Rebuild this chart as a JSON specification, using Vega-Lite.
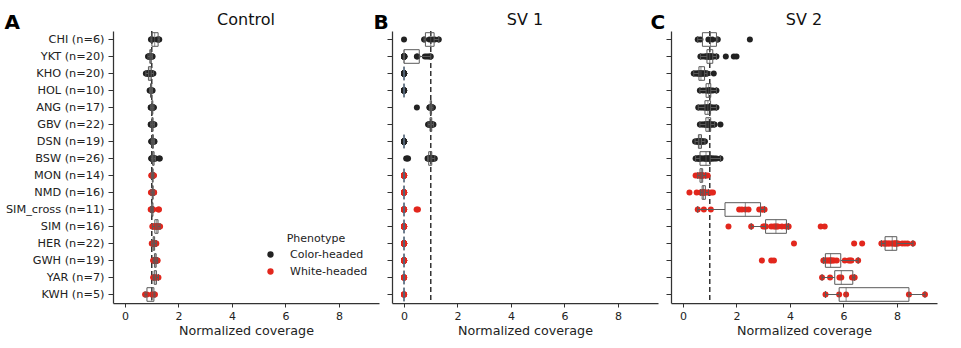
{
"$schema": "https://vega.github.io/schema/vega-lite/v6.json",
"background": "white",
"padding": {"left": 4, "top": 12, "right": 5, "bottom": 5},
"spacing": 13,
"bounds": "flush",
"config": {
  "view": {"stroke": null},
  "font": "DejaVu Sans",
  "axis": {"domainColor": "#333333", "tickColor": "#333333", "labelColor": "#222222", "titleColor": "#222222", "labelFont": "DejaVu Sans", "titleFont": "DejaVu Sans", "grid": false, "labelFontSize": 11, "tickSize": 4, "domainWidth": 1.25, "tickWidth": 1},
  "axisY": {"tickSize": 5, "labelFontSize": 11.3},
  "title": {"font": "DejaVu Sans", "fontSize": 16, "fontWeight": "normal", "anchor": "middle", "color": "#111111", "offset": 5, "dy": 21},
  "legend": {"orient": "none", "legendX": 152, "legendY": 202, "titleAnchor": "middle", "titleFontWeight": "normal", "titleFontSize": 11, "labelFontSize": 11, "titleColor": "#222222", "labelColor": "#222222", "symbolType": "circle", "symbolSize": 40, "symbolStrokeWidth": 0, "rowPadding": 5, "titlePadding": 5, "labelOffset": 14, "padding": 0}
},
"datasets": {
"breeds": [
{"breed":"CHI","label":"CHI (n=6)","phenotype":"Color-headed"},
{"breed":"YKT","label":"YKT (n=20)","phenotype":"Color-headed"},
{"breed":"KHO","label":"KHO (n=20)","phenotype":"Color-headed"},
{"breed":"HOL","label":"HOL (n=10)","phenotype":"Color-headed"},
{"breed":"ANG","label":"ANG (n=17)","phenotype":"Color-headed"},
{"breed":"GBV","label":"GBV (n=22)","phenotype":"Color-headed"},
{"breed":"DSN","label":"DSN (n=19)","phenotype":"Color-headed"},
{"breed":"BSW","label":"BSW (n=26)","phenotype":"Color-headed"},
{"breed":"MON","label":"MON (n=14)","phenotype":"White-headed"},
{"breed":"NMD","label":"NMD (n=16)","phenotype":"White-headed"},
{"breed":"SIM_cross","label":"SIM_cross (n=11)","phenotype":"White-headed"},
{"breed":"SIM","label":"SIM (n=16)","phenotype":"White-headed"},
{"breed":"HER","label":"HER (n=22)","phenotype":"White-headed"},
{"breed":"GWH","label":"GWH (n=19)","phenotype":"White-headed"},
{"breed":"YAR","label":"YAR (n=7)","phenotype":"White-headed"},
{"breed":"KWH","label":"KWH (n=5)","phenotype":"White-headed"}
],
"control": [
{"breed":"CHI","cov":0.97},{"breed":"CHI","cov":1.0},{"breed":"CHI","cov":1.02},{"breed":"CHI","cov":1.2},{"breed":"CHI","cov":1.25},{"breed":"CHI","cov":1.28},
{"breed":"YKT","cov":0.86},{"breed":"YKT","cov":0.88},{"breed":"YKT","cov":0.9},{"breed":"YKT","cov":0.91},{"breed":"YKT","cov":0.92},{"breed":"YKT","cov":0.93},{"breed":"YKT","cov":0.93},{"breed":"YKT","cov":0.94},{"breed":"YKT","cov":0.95},{"breed":"YKT","cov":0.95},{"breed":"YKT","cov":0.96},{"breed":"YKT","cov":0.96},{"breed":"YKT","cov":0.97},{"breed":"YKT","cov":0.97},{"breed":"YKT","cov":0.98},{"breed":"YKT","cov":0.99},{"breed":"YKT","cov":1.0},{"breed":"YKT","cov":1.0},{"breed":"YKT","cov":1.01},{"breed":"YKT","cov":1.03},
{"breed":"KHO","cov":0.78},{"breed":"KHO","cov":0.8},{"breed":"KHO","cov":0.83},{"breed":"KHO","cov":0.85},{"breed":"KHO","cov":0.86},{"breed":"KHO","cov":0.88},{"breed":"KHO","cov":0.9},{"breed":"KHO","cov":0.91},{"breed":"KHO","cov":0.92},{"breed":"KHO","cov":0.93},{"breed":"KHO","cov":0.94},{"breed":"KHO","cov":0.95},{"breed":"KHO","cov":0.96},{"breed":"KHO","cov":0.97},{"breed":"KHO","cov":0.98},{"breed":"KHO","cov":0.99},{"breed":"KHO","cov":1.0},{"breed":"KHO","cov":1.01},{"breed":"KHO","cov":1.03},{"breed":"KHO","cov":1.06},
{"breed":"HOL","cov":0.92},{"breed":"HOL","cov":0.94},{"breed":"HOL","cov":0.95},{"breed":"HOL","cov":0.96},{"breed":"HOL","cov":0.97},{"breed":"HOL","cov":0.98},{"breed":"HOL","cov":0.99},{"breed":"HOL","cov":1.0},{"breed":"HOL","cov":1.01},{"breed":"HOL","cov":1.03},
{"breed":"ANG","cov":0.96},{"breed":"ANG","cov":0.97},{"breed":"ANG","cov":0.98},{"breed":"ANG","cov":0.99},{"breed":"ANG","cov":1.0},{"breed":"ANG","cov":1.0},{"breed":"ANG","cov":1.01},{"breed":"ANG","cov":1.01},{"breed":"ANG","cov":1.02},{"breed":"ANG","cov":1.02},{"breed":"ANG","cov":1.03},{"breed":"ANG","cov":1.03},{"breed":"ANG","cov":1.04},{"breed":"ANG","cov":1.05},{"breed":"ANG","cov":1.05},{"breed":"ANG","cov":1.06},{"breed":"ANG","cov":1.08},
{"breed":"GBV","cov":0.96},{"breed":"GBV","cov":0.97},{"breed":"GBV","cov":0.98},{"breed":"GBV","cov":0.99},{"breed":"GBV","cov":1.0},{"breed":"GBV","cov":1.0},{"breed":"GBV","cov":1.01},{"breed":"GBV","cov":1.01},{"breed":"GBV","cov":1.02},{"breed":"GBV","cov":1.02},{"breed":"GBV","cov":1.03},{"breed":"GBV","cov":1.03},{"breed":"GBV","cov":1.03},{"breed":"GBV","cov":1.04},{"breed":"GBV","cov":1.04},{"breed":"GBV","cov":1.05},{"breed":"GBV","cov":1.05},{"breed":"GBV","cov":1.06},{"breed":"GBV","cov":1.06},{"breed":"GBV","cov":1.07},{"breed":"GBV","cov":1.08},{"breed":"GBV","cov":1.1},
{"breed":"DSN","cov":0.98},{"breed":"DSN","cov":0.99},{"breed":"DSN","cov":1.0},{"breed":"DSN","cov":1.01},{"breed":"DSN","cov":1.01},{"breed":"DSN","cov":1.02},{"breed":"DSN","cov":1.02},{"breed":"DSN","cov":1.03},{"breed":"DSN","cov":1.03},{"breed":"DSN","cov":1.04},{"breed":"DSN","cov":1.04},{"breed":"DSN","cov":1.05},{"breed":"DSN","cov":1.05},{"breed":"DSN","cov":1.06},{"breed":"DSN","cov":1.06},{"breed":"DSN","cov":1.07},{"breed":"DSN","cov":1.08},{"breed":"DSN","cov":1.09},{"breed":"DSN","cov":1.1},
{"breed":"BSW","cov":0.98},{"breed":"BSW","cov":0.99},{"breed":"BSW","cov":1.0},{"breed":"BSW","cov":1.01},{"breed":"BSW","cov":1.02},{"breed":"BSW","cov":1.02},{"breed":"BSW","cov":1.03},{"breed":"BSW","cov":1.03},{"breed":"BSW","cov":1.04},{"breed":"BSW","cov":1.04},{"breed":"BSW","cov":1.05},{"breed":"BSW","cov":1.05},{"breed":"BSW","cov":1.05},{"breed":"BSW","cov":1.06},{"breed":"BSW","cov":1.06},{"breed":"BSW","cov":1.07},{"breed":"BSW","cov":1.07},{"breed":"BSW","cov":1.08},{"breed":"BSW","cov":1.08},{"breed":"BSW","cov":1.09},{"breed":"BSW","cov":1.1},{"breed":"BSW","cov":1.1},{"breed":"BSW","cov":1.12},{"breed":"BSW","cov":1.14},{"breed":"BSW","cov":1.28},{"breed":"BSW","cov":1.3},
{"breed":"MON","cov":0.98},{"breed":"MON","cov":1.0},{"breed":"MON","cov":1.01},{"breed":"MON","cov":1.02},{"breed":"MON","cov":1.02},{"breed":"MON","cov":1.03},{"breed":"MON","cov":1.03},{"breed":"MON","cov":1.04},{"breed":"MON","cov":1.04},{"breed":"MON","cov":1.05},{"breed":"MON","cov":1.05},{"breed":"MON","cov":1.06},{"breed":"MON","cov":1.07},{"breed":"MON","cov":1.08},
{"breed":"NMD","cov":0.97},{"breed":"NMD","cov":0.99},{"breed":"NMD","cov":1.0},{"breed":"NMD","cov":1.01},{"breed":"NMD","cov":1.02},{"breed":"NMD","cov":1.02},{"breed":"NMD","cov":1.03},{"breed":"NMD","cov":1.03},{"breed":"NMD","cov":1.04},{"breed":"NMD","cov":1.04},{"breed":"NMD","cov":1.05},{"breed":"NMD","cov":1.05},{"breed":"NMD","cov":1.06},{"breed":"NMD","cov":1.07},{"breed":"NMD","cov":1.08},{"breed":"NMD","cov":1.09},
{"breed":"SIM_cross","cov":0.96},{"breed":"SIM_cross","cov":0.98},{"breed":"SIM_cross","cov":0.99},{"breed":"SIM_cross","cov":1.0},{"breed":"SIM_cross","cov":1.01},{"breed":"SIM_cross","cov":1.02},{"breed":"SIM_cross","cov":1.03},{"breed":"SIM_cross","cov":1.04},{"breed":"SIM_cross","cov":1.05},{"breed":"SIM_cross","cov":1.25},{"breed":"SIM_cross","cov":1.27},
{"breed":"SIM","cov":1.02},{"breed":"SIM","cov":1.05},{"breed":"SIM","cov":1.08},{"breed":"SIM","cov":1.1},{"breed":"SIM","cov":1.12},{"breed":"SIM","cov":1.14},{"breed":"SIM","cov":1.16},{"breed":"SIM","cov":1.18},{"breed":"SIM","cov":1.19},{"breed":"SIM","cov":1.2},{"breed":"SIM","cov":1.21},{"breed":"SIM","cov":1.23},{"breed":"SIM","cov":1.25},{"breed":"SIM","cov":1.27},{"breed":"SIM","cov":1.29},{"breed":"SIM","cov":1.31},
{"breed":"HER","cov":1.0},{"breed":"HER","cov":1.02},{"breed":"HER","cov":1.03},{"breed":"HER","cov":1.04},{"breed":"HER","cov":1.05},{"breed":"HER","cov":1.05},{"breed":"HER","cov":1.06},{"breed":"HER","cov":1.06},{"breed":"HER","cov":1.07},{"breed":"HER","cov":1.07},{"breed":"HER","cov":1.08},{"breed":"HER","cov":1.08},{"breed":"HER","cov":1.09},{"breed":"HER","cov":1.09},{"breed":"HER","cov":1.1},{"breed":"HER","cov":1.1},{"breed":"HER","cov":1.11},{"breed":"HER","cov":1.12},{"breed":"HER","cov":1.13},{"breed":"HER","cov":1.14},{"breed":"HER","cov":1.15},{"breed":"HER","cov":1.17},
{"breed":"GWH","cov":1.05},{"breed":"GWH","cov":1.07},{"breed":"GWH","cov":1.08},{"breed":"GWH","cov":1.09},{"breed":"GWH","cov":1.1},{"breed":"GWH","cov":1.1},{"breed":"GWH","cov":1.11},{"breed":"GWH","cov":1.12},{"breed":"GWH","cov":1.12},{"breed":"GWH","cov":1.13},{"breed":"GWH","cov":1.14},{"breed":"GWH","cov":1.14},{"breed":"GWH","cov":1.15},{"breed":"GWH","cov":1.16},{"breed":"GWH","cov":1.17},{"breed":"GWH","cov":1.18},{"breed":"GWH","cov":1.19},{"breed":"GWH","cov":1.2},{"breed":"GWH","cov":1.22},
{"breed":"YAR","cov":1.05},{"breed":"YAR","cov":1.08},{"breed":"YAR","cov":1.1},{"breed":"YAR","cov":1.12},{"breed":"YAR","cov":1.15},{"breed":"YAR","cov":1.2},{"breed":"YAR","cov":1.25},
{"breed":"KWH","cov":0.75},{"breed":"KWH","cov":0.82},{"breed":"KWH","cov":1.0},{"breed":"KWH","cov":1.08},{"breed":"KWH","cov":1.12}
],
"sv1": [
{"breed":"CHI","cov":0},{"breed":"CHI","cov":0.75},{"breed":"CHI","cov":0.95},{"breed":"CHI","cov":1.05},{"breed":"CHI","cov":1.15},{"breed":"CHI","cov":1.3},
{"breed":"YKT","cov":0},{"breed":"YKT","cov":0},{"breed":"YKT","cov":0},{"breed":"YKT","cov":0},{"breed":"YKT","cov":0},{"breed":"YKT","cov":0},{"breed":"YKT","cov":0},{"breed":"YKT","cov":0},{"breed":"YKT","cov":0},{"breed":"YKT","cov":0},{"breed":"YKT","cov":0},{"breed":"YKT","cov":0.01},{"breed":"YKT","cov":0.02},{"breed":"YKT","cov":0.48},{"breed":"YKT","cov":0.5},{"breed":"YKT","cov":0.78},{"breed":"YKT","cov":0.85},{"breed":"YKT","cov":0.92},{"breed":"YKT","cov":0.97},{"breed":"YKT","cov":1.0},
{"breed":"KHO","cov":0},{"breed":"KHO","cov":0},{"breed":"KHO","cov":0},{"breed":"KHO","cov":0},{"breed":"KHO","cov":0},{"breed":"KHO","cov":0},{"breed":"KHO","cov":0},{"breed":"KHO","cov":0},{"breed":"KHO","cov":0},{"breed":"KHO","cov":0},{"breed":"KHO","cov":0},{"breed":"KHO","cov":0},{"breed":"KHO","cov":0},{"breed":"KHO","cov":0},{"breed":"KHO","cov":0},{"breed":"KHO","cov":0},{"breed":"KHO","cov":0},{"breed":"KHO","cov":0},{"breed":"KHO","cov":0},{"breed":"KHO","cov":0},
{"breed":"HOL","cov":0},{"breed":"HOL","cov":0},{"breed":"HOL","cov":0},{"breed":"HOL","cov":0},{"breed":"HOL","cov":0},{"breed":"HOL","cov":0},{"breed":"HOL","cov":0},{"breed":"HOL","cov":0},{"breed":"HOL","cov":0},{"breed":"HOL","cov":0},
{"breed":"ANG","cov":0.48},{"breed":"ANG","cov":0.95},{"breed":"ANG","cov":0.96},{"breed":"ANG","cov":0.97},{"breed":"ANG","cov":0.98},{"breed":"ANG","cov":0.99},{"breed":"ANG","cov":1.0},{"breed":"ANG","cov":1.0},{"breed":"ANG","cov":1.01},{"breed":"ANG","cov":1.01},{"breed":"ANG","cov":1.02},{"breed":"ANG","cov":1.02},{"breed":"ANG","cov":1.03},{"breed":"ANG","cov":1.04},{"breed":"ANG","cov":1.05},{"breed":"ANG","cov":1.06},{"breed":"ANG","cov":1.08},
{"breed":"GBV","cov":0.9},{"breed":"GBV","cov":0.92},{"breed":"GBV","cov":0.94},{"breed":"GBV","cov":0.95},{"breed":"GBV","cov":0.96},{"breed":"GBV","cov":0.97},{"breed":"GBV","cov":0.98},{"breed":"GBV","cov":0.98},{"breed":"GBV","cov":0.99},{"breed":"GBV","cov":1.0},{"breed":"GBV","cov":1.0},{"breed":"GBV","cov":1.01},{"breed":"GBV","cov":1.01},{"breed":"GBV","cov":1.02},{"breed":"GBV","cov":1.02},{"breed":"GBV","cov":1.03},{"breed":"GBV","cov":1.04},{"breed":"GBV","cov":1.05},{"breed":"GBV","cov":1.06},{"breed":"GBV","cov":1.07},{"breed":"GBV","cov":1.08},{"breed":"GBV","cov":1.1},
{"breed":"DSN","cov":0},{"breed":"DSN","cov":0},{"breed":"DSN","cov":0},{"breed":"DSN","cov":0},{"breed":"DSN","cov":0},{"breed":"DSN","cov":0},{"breed":"DSN","cov":0},{"breed":"DSN","cov":0},{"breed":"DSN","cov":0},{"breed":"DSN","cov":0},{"breed":"DSN","cov":0},{"breed":"DSN","cov":0},{"breed":"DSN","cov":0},{"breed":"DSN","cov":0},{"breed":"DSN","cov":0},{"breed":"DSN","cov":0},{"breed":"DSN","cov":0},{"breed":"DSN","cov":0},{"breed":"DSN","cov":0},
{"breed":"BSW","cov":0.08},{"breed":"BSW","cov":0.12},{"breed":"BSW","cov":0.15},{"breed":"BSW","cov":0.88},{"breed":"BSW","cov":0.9},{"breed":"BSW","cov":0.91},{"breed":"BSW","cov":0.92},{"breed":"BSW","cov":0.93},{"breed":"BSW","cov":0.94},{"breed":"BSW","cov":0.95},{"breed":"BSW","cov":0.96},{"breed":"BSW","cov":0.97},{"breed":"BSW","cov":0.98},{"breed":"BSW","cov":0.99},{"breed":"BSW","cov":1.0},{"breed":"BSW","cov":1.0},{"breed":"BSW","cov":1.01},{"breed":"BSW","cov":1.02},{"breed":"BSW","cov":1.03},{"breed":"BSW","cov":1.04},{"breed":"BSW","cov":1.05},{"breed":"BSW","cov":1.06},{"breed":"BSW","cov":1.07},{"breed":"BSW","cov":1.09},{"breed":"BSW","cov":1.12},{"breed":"BSW","cov":1.15},
{"breed":"MON","cov":0},{"breed":"MON","cov":0},{"breed":"MON","cov":0},{"breed":"MON","cov":0},{"breed":"MON","cov":0},{"breed":"MON","cov":0},{"breed":"MON","cov":0},{"breed":"MON","cov":0},{"breed":"MON","cov":0},{"breed":"MON","cov":0},{"breed":"MON","cov":0},{"breed":"MON","cov":0},{"breed":"MON","cov":0},{"breed":"MON","cov":0},
{"breed":"NMD","cov":0},{"breed":"NMD","cov":0},{"breed":"NMD","cov":0},{"breed":"NMD","cov":0},{"breed":"NMD","cov":0},{"breed":"NMD","cov":0},{"breed":"NMD","cov":0},{"breed":"NMD","cov":0},{"breed":"NMD","cov":0},{"breed":"NMD","cov":0},{"breed":"NMD","cov":0},{"breed":"NMD","cov":0},{"breed":"NMD","cov":0},{"breed":"NMD","cov":0},{"breed":"NMD","cov":0},{"breed":"NMD","cov":0},
{"breed":"SIM_cross","cov":0},{"breed":"SIM_cross","cov":0},{"breed":"SIM_cross","cov":0},{"breed":"SIM_cross","cov":0},{"breed":"SIM_cross","cov":0},{"breed":"SIM_cross","cov":0},{"breed":"SIM_cross","cov":0},{"breed":"SIM_cross","cov":0},{"breed":"SIM_cross","cov":0},{"breed":"SIM_cross","cov":0.47},{"breed":"SIM_cross","cov":0.52},
{"breed":"SIM","cov":0},{"breed":"SIM","cov":0},{"breed":"SIM","cov":0},{"breed":"SIM","cov":0},{"breed":"SIM","cov":0},{"breed":"SIM","cov":0},{"breed":"SIM","cov":0},{"breed":"SIM","cov":0},{"breed":"SIM","cov":0},{"breed":"SIM","cov":0},{"breed":"SIM","cov":0},{"breed":"SIM","cov":0},{"breed":"SIM","cov":0},{"breed":"SIM","cov":0},{"breed":"SIM","cov":0},{"breed":"SIM","cov":0},
{"breed":"HER","cov":0},{"breed":"HER","cov":0},{"breed":"HER","cov":0},{"breed":"HER","cov":0},{"breed":"HER","cov":0},{"breed":"HER","cov":0},{"breed":"HER","cov":0},{"breed":"HER","cov":0},{"breed":"HER","cov":0},{"breed":"HER","cov":0},{"breed":"HER","cov":0},{"breed":"HER","cov":0},{"breed":"HER","cov":0},{"breed":"HER","cov":0},{"breed":"HER","cov":0},{"breed":"HER","cov":0},{"breed":"HER","cov":0},{"breed":"HER","cov":0},{"breed":"HER","cov":0},{"breed":"HER","cov":0},{"breed":"HER","cov":0},{"breed":"HER","cov":0},
{"breed":"GWH","cov":0},{"breed":"GWH","cov":0},{"breed":"GWH","cov":0},{"breed":"GWH","cov":0},{"breed":"GWH","cov":0},{"breed":"GWH","cov":0},{"breed":"GWH","cov":0},{"breed":"GWH","cov":0},{"breed":"GWH","cov":0},{"breed":"GWH","cov":0},{"breed":"GWH","cov":0},{"breed":"GWH","cov":0},{"breed":"GWH","cov":0},{"breed":"GWH","cov":0},{"breed":"GWH","cov":0},{"breed":"GWH","cov":0},{"breed":"GWH","cov":0},{"breed":"GWH","cov":0},{"breed":"GWH","cov":0},
{"breed":"YAR","cov":0},{"breed":"YAR","cov":0},{"breed":"YAR","cov":0},{"breed":"YAR","cov":0},{"breed":"YAR","cov":0},{"breed":"YAR","cov":0},{"breed":"YAR","cov":0},
{"breed":"KWH","cov":0},{"breed":"KWH","cov":0},{"breed":"KWH","cov":0},{"breed":"KWH","cov":0},{"breed":"KWH","cov":0}
],
"sv2": [
{"breed":"CHI","cov":0.55},{"breed":"CHI","cov":0.65},{"breed":"CHI","cov":0.95},{"breed":"CHI","cov":1.1},{"breed":"CHI","cov":1.3},{"breed":"CHI","cov":2.5},
{"breed":"YKT","cov":0.65},{"breed":"YKT","cov":0.72},{"breed":"YKT","cov":0.8},{"breed":"YKT","cov":0.85},{"breed":"YKT","cov":0.88},{"breed":"YKT","cov":0.9},{"breed":"YKT","cov":0.93},{"breed":"YKT","cov":0.95},{"breed":"YKT","cov":0.97},{"breed":"YKT","cov":1.0},{"breed":"YKT","cov":1.0},{"breed":"YKT","cov":1.02},{"breed":"YKT","cov":1.05},{"breed":"YKT","cov":1.08},{"breed":"YKT","cov":1.1},{"breed":"YKT","cov":1.15},{"breed":"YKT","cov":1.25},{"breed":"YKT","cov":1.6},{"breed":"YKT","cov":1.9},{"breed":"YKT","cov":2.0},
{"breed":"KHO","cov":0.4},{"breed":"KHO","cov":0.45},{"breed":"KHO","cov":0.5},{"breed":"KHO","cov":0.55},{"breed":"KHO","cov":0.58},{"breed":"KHO","cov":0.6},{"breed":"KHO","cov":0.62},{"breed":"KHO","cov":0.63},{"breed":"KHO","cov":0.65},{"breed":"KHO","cov":0.66},{"breed":"KHO","cov":0.68},{"breed":"KHO","cov":0.7},{"breed":"KHO","cov":0.72},{"breed":"KHO","cov":0.76},{"breed":"KHO","cov":0.8},{"breed":"KHO","cov":0.82},{"breed":"KHO","cov":0.84},{"breed":"KHO","cov":0.86},{"breed":"KHO","cov":0.9},{"breed":"KHO","cov":1.15},
{"breed":"HOL","cov":0.63},{"breed":"HOL","cov":0.75},{"breed":"HOL","cov":0.85},{"breed":"HOL","cov":0.9},{"breed":"HOL","cov":0.95},{"breed":"HOL","cov":0.97},{"breed":"HOL","cov":1.0},{"breed":"HOL","cov":1.05},{"breed":"HOL","cov":1.12},{"breed":"HOL","cov":1.25},
{"breed":"ANG","cov":0.57},{"breed":"ANG","cov":0.65},{"breed":"ANG","cov":0.72},{"breed":"ANG","cov":0.78},{"breed":"ANG","cov":0.82},{"breed":"ANG","cov":0.85},{"breed":"ANG","cov":0.88},{"breed":"ANG","cov":0.9},{"breed":"ANG","cov":0.93},{"breed":"ANG","cov":0.95},{"breed":"ANG","cov":0.98},{"breed":"ANG","cov":1.0},{"breed":"ANG","cov":1.03},{"breed":"ANG","cov":1.06},{"breed":"ANG","cov":1.1},{"breed":"ANG","cov":1.18},{"breed":"ANG","cov":1.25},
{"breed":"GBV","cov":0.63},{"breed":"GBV","cov":0.7},{"breed":"GBV","cov":0.75},{"breed":"GBV","cov":0.8},{"breed":"GBV","cov":0.83},{"breed":"GBV","cov":0.85},{"breed":"GBV","cov":0.87},{"breed":"GBV","cov":0.89},{"breed":"GBV","cov":0.9},{"breed":"GBV","cov":0.92},{"breed":"GBV","cov":0.93},{"breed":"GBV","cov":0.95},{"breed":"GBV","cov":0.96},{"breed":"GBV","cov":0.98},{"breed":"GBV","cov":1.0},{"breed":"GBV","cov":1.02},{"breed":"GBV","cov":1.04},{"breed":"GBV","cov":1.06},{"breed":"GBV","cov":1.1},{"breed":"GBV","cov":1.14},{"breed":"GBV","cov":1.18},{"breed":"GBV","cov":1.4},
{"breed":"DSN","cov":0.45},{"breed":"DSN","cov":0.5},{"breed":"DSN","cov":0.52},{"breed":"DSN","cov":0.55},{"breed":"DSN","cov":0.57},{"breed":"DSN","cov":0.58},{"breed":"DSN","cov":0.6},{"breed":"DSN","cov":0.61},{"breed":"DSN","cov":0.62},{"breed":"DSN","cov":0.63},{"breed":"DSN","cov":0.64},{"breed":"DSN","cov":0.65},{"breed":"DSN","cov":0.66},{"breed":"DSN","cov":0.68},{"breed":"DSN","cov":0.7},{"breed":"DSN","cov":0.72},{"breed":"DSN","cov":0.75},{"breed":"DSN","cov":0.78},{"breed":"DSN","cov":0.82},
{"breed":"BSW","cov":0.47},{"breed":"BSW","cov":0.52},{"breed":"BSW","cov":0.55},{"breed":"BSW","cov":0.58},{"breed":"BSW","cov":0.6},{"breed":"BSW","cov":0.62},{"breed":"BSW","cov":0.63},{"breed":"BSW","cov":0.65},{"breed":"BSW","cov":0.7},{"breed":"BSW","cov":0.75},{"breed":"BSW","cov":0.8},{"breed":"BSW","cov":0.83},{"breed":"BSW","cov":0.85},{"breed":"BSW","cov":0.87},{"breed":"BSW","cov":0.9},{"breed":"BSW","cov":0.93},{"breed":"BSW","cov":0.95},{"breed":"BSW","cov":0.98},{"breed":"BSW","cov":1.0},{"breed":"BSW","cov":1.02},{"breed":"BSW","cov":1.04},{"breed":"BSW","cov":1.08},{"breed":"BSW","cov":1.12},{"breed":"BSW","cov":1.18},{"breed":"BSW","cov":1.25},{"breed":"BSW","cov":1.4},
{"breed":"MON","cov":0.47},{"breed":"MON","cov":0.55},{"breed":"MON","cov":0.6},{"breed":"MON","cov":0.63},{"breed":"MON","cov":0.65},{"breed":"MON","cov":0.67},{"breed":"MON","cov":0.68},{"breed":"MON","cov":0.7},{"breed":"MON","cov":0.71},{"breed":"MON","cov":0.72},{"breed":"MON","cov":0.74},{"breed":"MON","cov":0.78},{"breed":"MON","cov":0.85},{"breed":"MON","cov":0.92},
{"breed":"NMD","cov":0.24},{"breed":"NMD","cov":0.51},{"breed":"NMD","cov":0.65},{"breed":"NMD","cov":0.7},{"breed":"NMD","cov":0.72},{"breed":"NMD","cov":0.74},{"breed":"NMD","cov":0.75},{"breed":"NMD","cov":0.76},{"breed":"NMD","cov":0.77},{"breed":"NMD","cov":0.78},{"breed":"NMD","cov":0.8},{"breed":"NMD","cov":0.82},{"breed":"NMD","cov":0.88},{"breed":"NMD","cov":0.95},{"breed":"NMD","cov":1.05},{"breed":"NMD","cov":1.12},
{"breed":"SIM_cross","cov":0.55},{"breed":"SIM_cross","cov":0.78},{"breed":"SIM_cross","cov":1.04},{"breed":"SIM_cross","cov":2.1},{"breed":"SIM_cross","cov":2.2},{"breed":"SIM_cross","cov":2.33},{"breed":"SIM_cross","cov":2.45},{"breed":"SIM_cross","cov":2.85},{"breed":"SIM_cross","cov":2.95},{"breed":"SIM_cross","cov":3.0},{"breed":"SIM_cross","cov":3.05},
{"breed":"SIM","cov":1.7},{"breed":"SIM","cov":2.55},{"breed":"SIM","cov":3.0},{"breed":"SIM","cov":3.05},{"breed":"SIM","cov":3.1},{"breed":"SIM","cov":3.3},{"breed":"SIM","cov":3.4},{"breed":"SIM","cov":3.45},{"breed":"SIM","cov":3.5},{"breed":"SIM","cov":3.55},{"breed":"SIM","cov":3.7},{"breed":"SIM","cov":3.85},{"breed":"SIM","cov":3.92},{"breed":"SIM","cov":3.95},{"breed":"SIM","cov":5.15},{"breed":"SIM","cov":5.3},
{"breed":"HER","cov":4.15},{"breed":"HER","cov":6.4},{"breed":"HER","cov":6.7},{"breed":"HER","cov":7.42},{"breed":"HER","cov":7.5},{"breed":"HER","cov":7.55},{"breed":"HER","cov":7.58},{"breed":"HER","cov":7.62},{"breed":"HER","cov":7.68},{"breed":"HER","cov":7.72},{"breed":"HER","cov":7.8},{"breed":"HER","cov":7.85},{"breed":"HER","cov":7.9},{"breed":"HER","cov":7.92},{"breed":"HER","cov":7.95},{"breed":"HER","cov":7.98},{"breed":"HER","cov":8.0},{"breed":"HER","cov":8.05},{"breed":"HER","cov":8.2},{"breed":"HER","cov":8.3},{"breed":"HER","cov":8.4},{"breed":"HER","cov":8.6},
{"breed":"GWH","cov":2.95},{"breed":"GWH","cov":3.3},{"breed":"GWH","cov":3.4},{"breed":"GWH","cov":5.25},{"breed":"GWH","cov":5.3},{"breed":"GWH","cov":5.35},{"breed":"GWH","cov":5.4},{"breed":"GWH","cov":5.45},{"breed":"GWH","cov":5.5},{"breed":"GWH","cov":5.52},{"breed":"GWH","cov":5.55},{"breed":"GWH","cov":5.6},{"breed":"GWH","cov":5.65},{"breed":"GWH","cov":5.75},{"breed":"GWH","cov":6.05},{"breed":"GWH","cov":6.2},{"breed":"GWH","cov":6.25},{"breed":"GWH","cov":6.3},{"breed":"GWH","cov":6.55},
{"breed":"YAR","cov":5.2},{"breed":"YAR","cov":5.5},{"breed":"YAR","cov":5.85},{"breed":"YAR","cov":5.92},{"breed":"YAR","cov":6.32},{"breed":"YAR","cov":6.38},{"breed":"YAR","cov":6.42},
{"breed":"KWH","cov":5.33},{"breed":"KWH","cov":5.84},{"breed":"KWH","cov":6.1},{"breed":"KWH","cov":8.45},{"breed":"KWH","cov":9.05}
]
},
"hconcat": [
{
 "width": 266, "height": 272,
 "title": "Control",
 "data": {"name": "control"},
 "transform": [{"lookup": "breed", "from": {"data": {"name": "breeds"}, "key": "breed", "fields": ["label", "phenotype"]}}],
 "layer": [
  {"data": {"values": [{"ref": 1}]}, "mark": {"type": "rule", "strokeDash": [5, 3], "color": "#333333", "strokeWidth": 1.5},
   "encoding": {"x": {"field": "ref", "type": "quantitative", "title": "Normalized coverage", "scale": {"domain": [-0.45, 9.5], "nice": false, "zero": false}}}},
  {"mark": {"type": "circle", "size": 36, "opacity": 1},
   "encoding": {
    "x": {"field": "cov", "type": "quantitative", "title": "Normalized coverage", "scale": {"domain": [-0.45, 9.5], "nice": false, "zero": false}, "axis": {"values": [0, 2, 4, 6, 8], "titleFontSize": 12.7, "titleFontWeight": "normal", "labelPadding": 3, "titlePadding": 3}},
    "y": {"field": "label", "type": "nominal", "sort": ["CHI (n=6)","YKT (n=20)","KHO (n=20)","HOL (n=10)","ANG (n=17)","GBV (n=22)","DSN (n=19)","BSW (n=26)","MON (n=14)","NMD (n=16)","SIM_cross (n=11)","SIM (n=16)","HER (n=22)","GWH (n=19)","YAR (n=7)","KWH (n=5)"], "scale": {"paddingInner": 0, "paddingOuter": 0}, "axis": {"title": "A", "titleAngle": 0, "titleFontSize": 20, "titleFontWeight": "bold", "titleColor": "#000000", "titleX": -109, "titleY": -3, "titleAlign": "left", "titleBaseline": "alphabetic", "labelPadding": 4}},
    "color": {"field": "phenotype", "type": "nominal", "scale": {"domain": ["Color-headed", "White-headed"], "range": ["#222222", "#e2271d"]}, "legend": {"title": "Phenotype"}}
   }},
  {"mark": {"type": "boxplot", "extent": 1.5, "outliers": false, "size": 13.6, "box": {"fill": "white", "fillOpacity": 0, "stroke": "#5a5a5a", "strokeWidth": 1}, "median": {"color": "#5a5a5a", "strokeWidth": 1}, "rule": {"color": "#5a5a5a", "strokeWidth": 1}, "ticks": {"color": "#5a5a5a", "size": 7}},
   "encoding": {
    "x": {"field": "cov", "type": "quantitative", "title": "Normalized coverage", "scale": {"domain": [-0.45, 9.5], "nice": false, "zero": false}},
    "y": {"field": "label", "type": "nominal", "sort": ["CHI (n=6)","YKT (n=20)","KHO (n=20)","HOL (n=10)","ANG (n=17)","GBV (n=22)","DSN (n=19)","BSW (n=26)","MON (n=14)","NMD (n=16)","SIM_cross (n=11)","SIM (n=16)","HER (n=22)","GWH (n=19)","YAR (n=7)","KWH (n=5)"]}
   }}
 ]
},
{
 "width": 266, "height": 272,
 "title": "SV 1",
 "data": {"name": "sv1"},
 "transform": [{"lookup": "breed", "from": {"data": {"name": "breeds"}, "key": "breed", "fields": ["label", "phenotype"]}}],
 "layer": [
  {"data": {"values": [{"ref": 1}]}, "mark": {"type": "rule", "strokeDash": [5, 3], "color": "#333333", "strokeWidth": 1.5},
   "encoding": {"x": {"field": "ref", "type": "quantitative", "title": "Normalized coverage", "scale": {"domain": [-0.45, 9.5], "nice": false, "zero": false}}}},
  {"mark": {"type": "circle", "size": 36, "opacity": 1},
   "encoding": {
    "x": {"field": "cov", "type": "quantitative", "title": "Normalized coverage", "scale": {"domain": [-0.45, 9.5], "nice": false, "zero": false}, "axis": {"values": [0, 2, 4, 6, 8], "titleFontSize": 12.7, "titleFontWeight": "normal", "labelPadding": 3, "titlePadding": 3}},
    "y": {"field": "label", "type": "nominal", "sort": ["CHI (n=6)","YKT (n=20)","KHO (n=20)","HOL (n=10)","ANG (n=17)","GBV (n=22)","DSN (n=19)","BSW (n=26)","MON (n=14)","NMD (n=16)","SIM_cross (n=11)","SIM (n=16)","HER (n=22)","GWH (n=19)","YAR (n=7)","KWH (n=5)"], "scale": {"paddingInner": 0, "paddingOuter": 0}, "axis": {"title": "B", "labels": false, "titleAngle": 0, "titleFontSize": 20, "titleFontWeight": "bold", "titleColor": "#000000", "titleX": -19, "titleY": -3, "titleAlign": "left", "titleBaseline": "alphabetic"}},
    "color": {"field": "phenotype", "type": "nominal", "scale": {"domain": ["Color-headed", "White-headed"], "range": ["#222222", "#e2271d"]}, "legend": {"title": "Phenotype"}}
   }},
  {"mark": {"type": "boxplot", "extent": 1.5, "outliers": false, "size": 13.6, "box": {"fill": "white", "fillOpacity": 0, "stroke": "#5a5a5a", "strokeWidth": 1}, "median": {"color": "#5a5a5a", "strokeWidth": 1}, "rule": {"color": "#5a5a5a", "strokeWidth": 1}, "ticks": {"color": "#5a5a5a", "size": 7}},
   "encoding": {
    "x": {"field": "cov", "type": "quantitative", "title": "Normalized coverage", "scale": {"domain": [-0.45, 9.5], "nice": false, "zero": false}},
    "y": {"field": "label", "type": "nominal", "sort": ["CHI (n=6)","YKT (n=20)","KHO (n=20)","HOL (n=10)","ANG (n=17)","GBV (n=22)","DSN (n=19)","BSW (n=26)","MON (n=14)","NMD (n=16)","SIM_cross (n=11)","SIM (n=16)","HER (n=22)","GWH (n=19)","YAR (n=7)","KWH (n=5)"]}
   }}
 ]
},
{
 "width": 266, "height": 272,
 "title": "SV 2",
 "data": {"name": "sv2"},
 "transform": [{"lookup": "breed", "from": {"data": {"name": "breeds"}, "key": "breed", "fields": ["label", "phenotype"]}}],
 "layer": [
  {"data": {"values": [{"ref": 1}]}, "mark": {"type": "rule", "strokeDash": [5, 3], "color": "#333333", "strokeWidth": 1.5},
   "encoding": {"x": {"field": "ref", "type": "quantitative", "title": "Normalized coverage", "scale": {"domain": [-0.45, 9.5], "nice": false, "zero": false}}}},
  {"mark": {"type": "circle", "size": 36, "opacity": 1},
   "encoding": {
    "x": {"field": "cov", "type": "quantitative", "title": "Normalized coverage", "scale": {"domain": [-0.45, 9.5], "nice": false, "zero": false}, "axis": {"values": [0, 2, 4, 6, 8], "titleFontSize": 12.7, "titleFontWeight": "normal", "labelPadding": 3, "titlePadding": 3}},
    "y": {"field": "label", "type": "nominal", "sort": ["CHI (n=6)","YKT (n=20)","KHO (n=20)","HOL (n=10)","ANG (n=17)","GBV (n=22)","DSN (n=19)","BSW (n=26)","MON (n=14)","NMD (n=16)","SIM_cross (n=11)","SIM (n=16)","HER (n=22)","GWH (n=19)","YAR (n=7)","KWH (n=5)"], "scale": {"paddingInner": 0, "paddingOuter": 0}, "axis": {"title": "C", "labels": false, "titleAngle": 0, "titleFontSize": 20, "titleFontWeight": "bold", "titleColor": "#000000", "titleX": -21, "titleY": -3, "titleAlign": "left", "titleBaseline": "alphabetic"}},
    "color": {"field": "phenotype", "type": "nominal", "scale": {"domain": ["Color-headed", "White-headed"], "range": ["#222222", "#e2271d"]}, "legend": {"title": "Phenotype"}}
   }},
  {"mark": {"type": "boxplot", "extent": 1.5, "outliers": false, "size": 13.6, "box": {"fill": "white", "fillOpacity": 0, "stroke": "#5a5a5a", "strokeWidth": 1}, "median": {"color": "#5a5a5a", "strokeWidth": 1}, "rule": {"color": "#5a5a5a", "strokeWidth": 1}, "ticks": {"color": "#5a5a5a", "size": 7}},
   "encoding": {
    "x": {"field": "cov", "type": "quantitative", "title": "Normalized coverage", "scale": {"domain": [-0.45, 9.5], "nice": false, "zero": false}},
    "y": {"field": "label", "type": "nominal", "sort": ["CHI (n=6)","YKT (n=20)","KHO (n=20)","HOL (n=10)","ANG (n=17)","GBV (n=22)","DSN (n=19)","BSW (n=26)","MON (n=14)","NMD (n=16)","SIM_cross (n=11)","SIM (n=16)","HER (n=22)","GWH (n=19)","YAR (n=7)","KWH (n=5)"]}
   }}
 ]
}
]
}
